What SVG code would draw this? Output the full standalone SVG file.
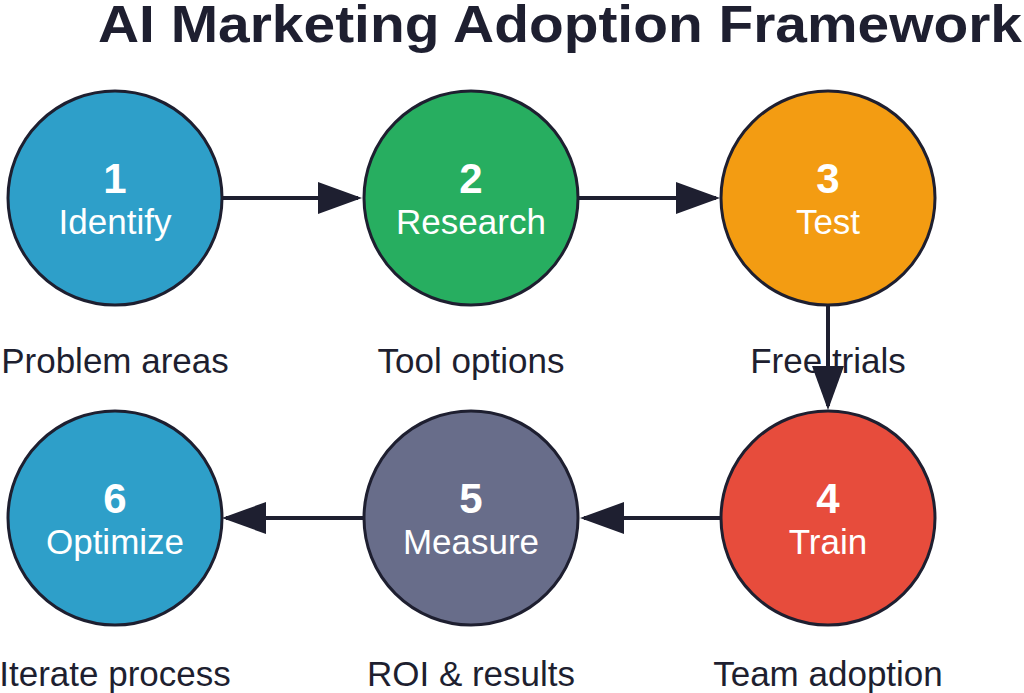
<svg xmlns="http://www.w3.org/2000/svg" width="1024" height="693" viewBox="0 0 1024 693">
<style>
.c{stroke:#1e1f30;stroke-width:3}
.n{font-family:"Liberation Sans",Arial,sans-serif;font-weight:bold;font-size:42px;fill:#fff;text-anchor:middle}
.l{font-family:"Liberation Sans",Arial,sans-serif;font-size:35px;fill:#fff;text-anchor:middle}
.cap{font-family:"Liberation Sans",Arial,sans-serif;font-size:35px;fill:#1e1f30;text-anchor:middle}
.a{stroke:#1e1f30;stroke-width:4;fill:none;marker-end:url(#ah)}
</style>
<defs><marker id="ah" viewBox="0 0 44 32" refX="40" refY="16" markerWidth="44" markerHeight="32" markerUnits="userSpaceOnUse" orient="auto"><path d="M0,0 L44,16 L0,32 z" fill="#1e1f30"/></marker></defs>
<rect width="1024" height="693" fill="#fff"/>
<text x="98" y="42" font-family="Liberation Sans,Arial,sans-serif" font-weight="bold" font-size="52" fill="#1e1f30" textLength="924" lengthAdjust="spacingAndGlyphs">AI Marketing Adoption Framework</text>
<g id="connectors">
<line class="a" x1="222" y1="198" x2="358" y2="198"/>
<line class="a" x1="579" y1="198" x2="716" y2="198"/>
<line class="a" x1="828" y1="305" x2="828" y2="406"/>
<line class="a" x1="720" y1="518" x2="584" y2="518"/>
<line class="a" x1="364" y1="518" x2="226" y2="518"/>
</g>
<g id="n1"><circle class="c" cx="115" cy="198" r="107" fill="#2e9fc9"/><text class="n" x="115" y="193">1</text><text class="l" x="115" y="234">Identify</text><text class="cap" x="115" y="373">Problem areas</text></g>
<g id="n2"><circle class="c" cx="471" cy="198" r="107" fill="#27ae60"/><text class="n" x="471" y="193">2</text><text class="l" x="471" y="234">Research</text><text class="cap" x="471" y="373">Tool options</text></g>
<g id="n3"><text class="cap" x="828" y="373">Free trials</text><circle class="c" cx="828" cy="198" r="107" fill="#f39c12"/><text class="n" x="828" y="193">3</text><text class="l" x="828" y="234">Test</text></g>
<g id="n4"><circle class="c" cx="828" cy="518" r="107" fill="#e74c3c"/><text class="n" x="828" y="513">4</text><text class="l" x="828" y="554">Train</text><text class="cap" x="828" y="686">Team adoption</text></g>
<g id="n5"><circle class="c" cx="471" cy="518" r="107" fill="#686d8a"/><text class="n" x="471" y="513">5</text><text class="l" x="471" y="554">Measure</text><text class="cap" x="471" y="686">ROI &amp; results</text></g>
<g id="n6"><circle class="c" cx="115" cy="518" r="107" fill="#2e9fc9"/><text class="n" x="115" y="513">6</text><text class="l" x="115" y="554">Optimize</text><text class="cap" x="115" y="686">Iterate process</text></g>
</svg>
